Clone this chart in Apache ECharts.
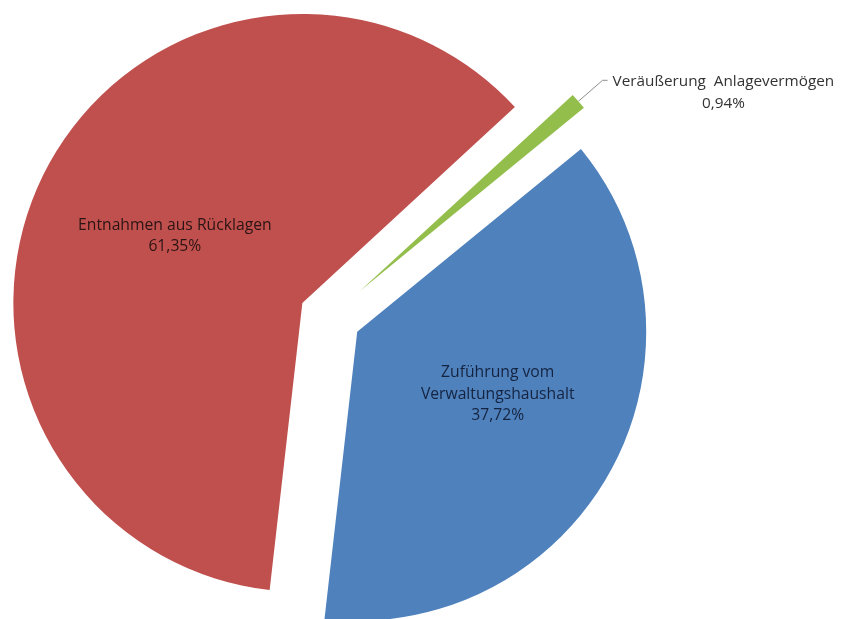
<!DOCTYPE html>
<html>
<head>
<meta charset="utf-8">
<script src="https://cdn.jsdelivr.net/npm/echarts@6/dist/echarts.min.js"></script>
<style>
html,body{margin:0;padding:0;background:#fff;}
#chart{width:850px;height:619px;}
</style>
</head>
<body>
<div id="chart"></div>
<script>
// ---- data ----
const categories = ['Entnahmen aus Rücklagen', 'Veräußerung  Anlagevermögen', 'Zuführung vom\nVerwaltungshaushalt'];
const shares = [61.35, 0.94, 37.72];
const colors = ['#C0504D', '#93BE4C', '#4F81BD'];
const labelColors = ['#2b1414', '#333333', '#14233f'];
const labelPaddings = [[0, 0, 0, 8], null, [0, 0, 16, 22]];

function pct(v) { return v.toFixed(2).replace('.', ',') + '%'; }
function richLines(name, value) {
  return name.split('\n').concat([pct(value)]).map(s => '{a|' + s + '}').join('\n');
}

const FONT = '"Open Sans", "Noto Sans", sans-serif';

// main series: red + blue (green hidden), offset 31
const mainData = categories.map((name, i) => {
  const hidden = i === 1;
  return {
    name: name,
    value: shares[i],
    selected: true,
    itemStyle: { color: colors[i], opacity: hidden ? 0 : 1 },
    label: hidden ? { show: false } : {
      show: true,
      formatter: p => richLines(p.name, p.value),
      rich: { a: { align: 'center', fontFamily: FONT, fontSize: 15.7, color: labelColors[i], lineHeight: 21.5 } },
      padding: labelPaddings[i]
    },
    labelLine: { show: false }
  };
});
// green series: only green visible, offset 40
const greenData = categories.map((name, i) => {
  const visible = i === 1;
  return {
    name: name,
    value: shares[i],
    selected: true,
    itemStyle: { color: colors[i], opacity: visible ? 1 : 0 },
    label: visible ? {
      show: true,
      formatter: p => richLines(p.name, p.value),
      rich: { a: { align: 'center', fontFamily: FONT, fontSize: 15.3, color: labelColors[i], lineHeight: 22 } },
      padding: [24, 0, 0, 0]
    } : { show: false },
    labelLine: { show: visible, length: 32, length2: 5, lineStyle: { color: '#8c8c8c', width: 1 } }
  };
});

const common = {
  type: 'pie',
  center: [330, 317],
  radius: 289,
  startAngle: 263.5,
  clockwise: true,
  selectedMode: 'multiple',
  avoidLabelOverlap: false,
  emphasis: { disabled: true },
  silent: true,
  itemStyle: { borderWidth: 0 }
};

const chart = echarts.init(document.getElementById('chart'), null, { renderer: 'canvas' });
chart.setOption({
  animation: false,
  backgroundColor: '#ffffff',
  series: [
    Object.assign({}, common, {
      selectedOffset: 31,
      label: { position: 'inside' },
      data: mainData
    }),
    Object.assign({}, common, {
      selectedOffset: 40,
      label: { position: 'outside', distance: 4 },
      data: greenData
    })
  ]
});
</script>
</body>
</html>
